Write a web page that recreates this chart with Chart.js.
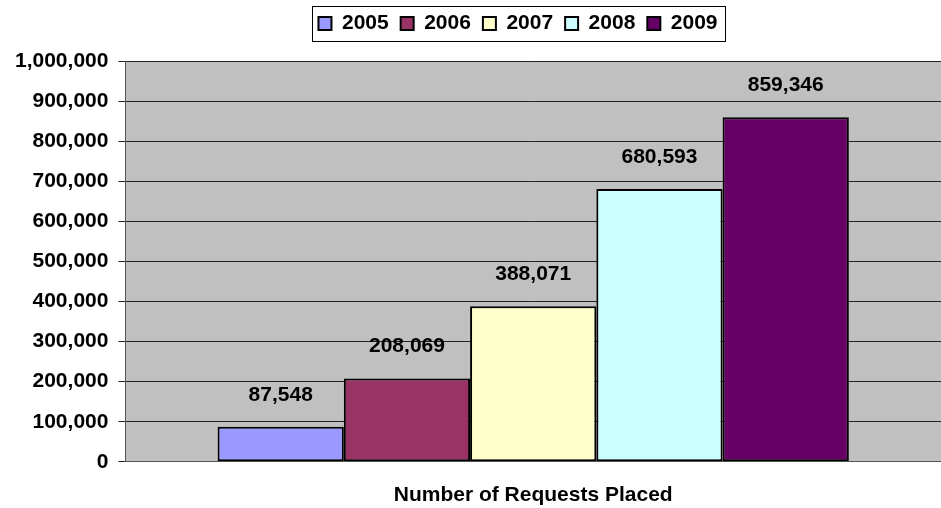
<!DOCTYPE html>
<html lang="en">
<head>
  <meta charset="UTF-8">
  <title>Number of Requests Placed</title>
  <script src="https://cdn.jsdelivr.net/npm/chart.js"></script>
  <style>
    body {
      margin: 0;
      background: #ffffff;
    }
    .wrap {
      width: 941px;
      height: 508px;
    }
  </style>
</head>
<body>
  <div class="wrap">
    <canvas id="requestsChart" width="941" height="508"></canvas>
  </div>

  <script>
    // data
    const categories = [''];
    const years = ['2005', '2006', '2007', '2008', '2009'];
    const requests = [87548, 208069, 388071, 680593, 859346];
    const barColors = ['#9999ff', '#993366', '#ffffcc', '#ccffff', '#660066'];
    const yTicks = [0, 100000, 200000, 300000, 400000, 500000, 600000, 700000, 800000, 900000, 1000000];

    const fmt = v => v.toLocaleString('en-US');
    const boldFont = { family: "'Liberation Sans', Arial, sans-serif", size: 21, weight: 'bold' };

    // grey plot area
    const plotBackground = {
      id: 'plotBackground',
      beforeDraw(chart) {
        const { ctx, chartArea } = chart;
        ctx.save();
        ctx.fillStyle = '#c0c0c0';
        ctx.fillRect(chartArea.left, chartArea.top, chartArea.right - chartArea.left, chartArea.bottom - chartArea.top);
        ctx.restore();
      }
    };

    // legend sits higher and a bit right of the centre in the original
    const legendShift = {
      id: 'legendShift',
      afterLayout(chart) {
        const lg = chart.legend;
        lg.top -= 17;
        lg.bottom -= 17;
        lg.left += 90;
      }
    };

    // values above the bars
    const barValues = {
      id: 'barValues',
      afterDatasetsDraw(chart) {
        const ctx = chart.ctx;
        ctx.save();
        ctx.font = 'bold 21px "Liberation Sans", Arial, sans-serif';
        ctx.fillStyle = '#000';
        ctx.textAlign = 'center';
        ctx.textBaseline = 'alphabetic';
        chart.data.datasets.forEach((ds, i) => {
          chart.getDatasetMeta(i).data.forEach((bar, j) => {
            ctx.fillText(fmt(ds.data[j]), bar.x, bar.y - 26);
          });
        });
        ctx.restore();
      }
    };

    // frame round the legend
    const legendFrame = {
      id: 'legendFrame',
      afterDraw(chart) {
        const boxes = chart.legend.legendHitBoxes;
        if (!boxes || !boxes.length) return;
        const left = Math.min(...boxes.map(b => b.left)) - 6;
        const right = Math.max(...boxes.map(b => b.left + b.width)) + 8;
        const ctx = chart.ctx;
        ctx.save();
        ctx.strokeStyle = '#000';
        ctx.lineWidth = 1;
        ctx.strokeRect(Math.round(left) + 0.5, 6.5, Math.round(right - left), 35);
        ctx.restore();
      }
    };

    new Chart(document.getElementById('requestsChart'), {
      type: 'bar',
      data: {
        labels: categories,
        datasets: years.map((y, i) => ({
          label: y,
          data: [requests[i]],
          backgroundColor: barColors[i],
          borderColor: '#000',
          borderWidth: 2,
          borderSkipped: false
        }))
      },
      options: {
        responsive: false,
        animation: false,
        devicePixelRatio: 1,
        layout: { padding: { left: 5, right: 0, top: 18, bottom: 0 } },
        datasets: {
          bar: { barPercentage: 1, categoryPercentage: 0.774 }
        },
        plugins: {
          tooltip: { enabled: false },
          legend: {
            position: 'top',
            labels: {
              font: boldFont,
              color: '#000',
              boxWidth: 13,
              boxHeight: 13,
              padding: 12,
              useBorderRadius: false
            }
          }
        },
        scales: {
          x: {
            grid: { display: false },
            border: { display: true, color: '#555', width: 1 },
            ticks: { display: false },
            title: {
              display: true,
              text: 'Number of Requests Placed',
              font: boldFont,
              color: '#000',
              padding: { top: 13, bottom: 0 }
            }
          },
          y: {
            min: 0,
            max: 1000000,
            afterBuildTicks(axis) {
              axis.ticks = yTicks.map(v => ({ value: v }));
            },
            grid: { color: '#222', lineWidth: 1, tickLength: 7 },
            border: { display: true, color: '#555', width: 1 },
            ticks: {
              font: boldFont,
              color: '#000',
              padding: 10,
              callback: v => fmt(v)
            }
          }
        }
      },
      plugins: [plotBackground, legendShift, barValues, legendFrame]
    });
  </script>
</body>
</html>
